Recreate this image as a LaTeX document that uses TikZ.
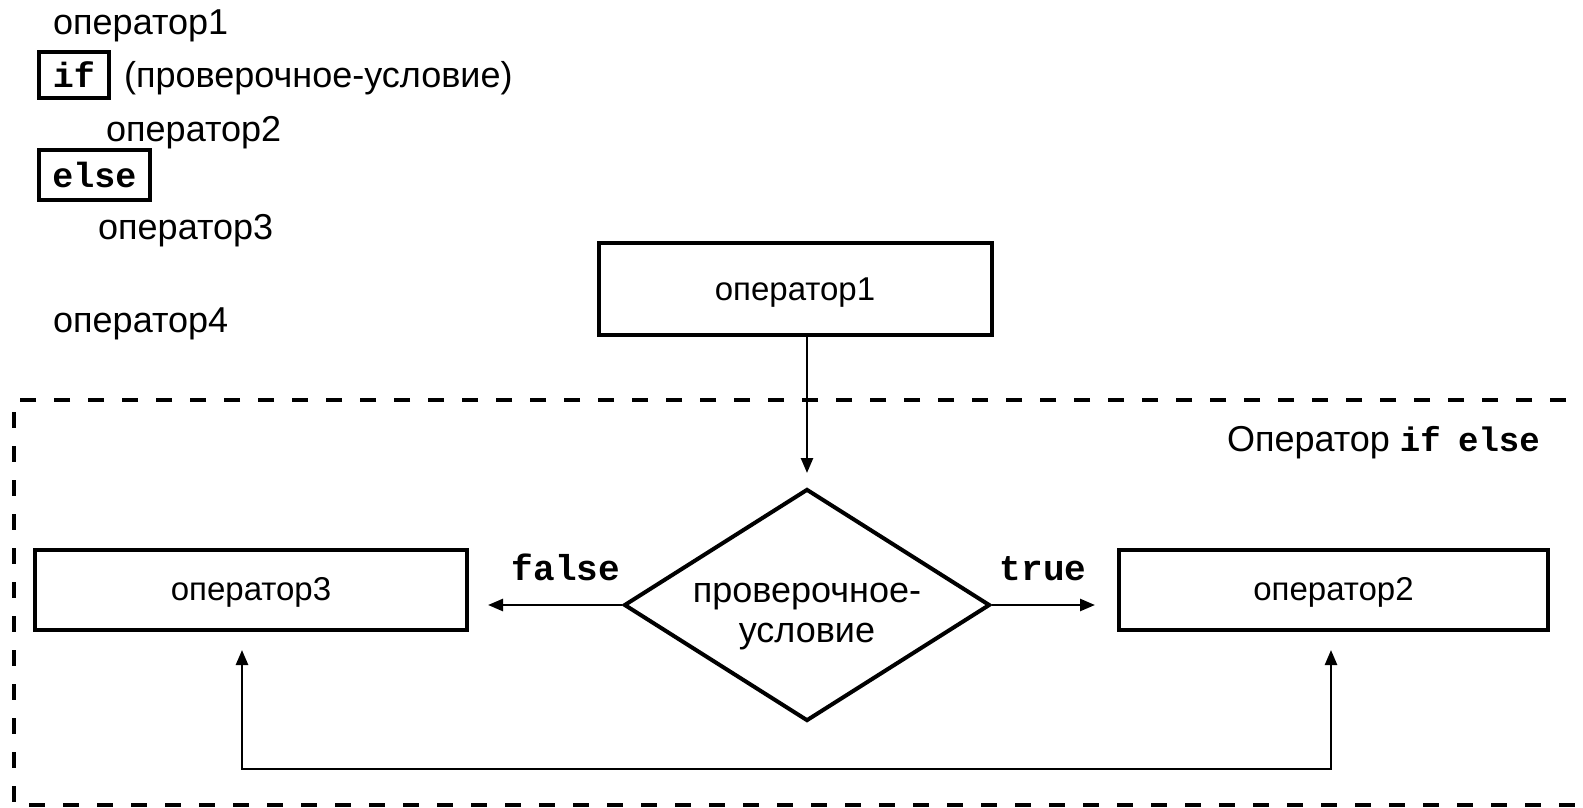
\documentclass[tikz,border=0pt]{standalone}
\usepackage{fontspec}
\setmainfont{Liberation Sans}
\newfontfamily\codefont{Liberation Mono}
\usetikzlibrary{arrows.meta,shapes.geometric}

\tikzset{
  txt/.style={font=\fontsize{36}{40}\selectfont, inner sep=0pt},
  code/.style={font=\codefont\bfseries\fontsize{36}{40}\selectfont, inner sep=0pt},
  kwbox/.style={draw, line width=3.5pt, font=\codefont\bfseries\fontsize{35}{40}\selectfont,
                inner sep=0pt},
  opbox/.style={draw, line width=4pt, font=\fontsize{33}{40}\selectfont, inner sep=0pt,
                text height=21pt, text depth=0pt},
  cond/.style={draw, diamond, line width=4pt, inner sep=0pt,
               minimum width=366pt, minimum height=232pt},
  flow/.style={line width=2.5pt, ->},
  frame/.style={line width=4pt, dash pattern=on 16pt off 18pt}
}

\begin{document}
\begin{tikzpicture}[x=1pt, y=-1pt, >={Triangle[length=15pt,width=12pt]}]
  \useasboundingbox (0,0) rectangle (1583,808);

  % source listing
  \node[txt, anchor=base west] (s1) at (53,35) {оператор1};
  \node[kwbox, minimum width=70pt, minimum height=46pt] (kif) at (74,75) {if};
  \node[txt, anchor=base west] (scond) at (124,88) {(проверочное-условие)};
  \node[txt, anchor=base west] (s2) at (106,141) {оператор2};
  \node[kwbox, minimum width=111pt, minimum height=50pt] (kelse) at (94.5,175) {else};
  \node[txt, anchor=base west] (s3) at (98,239) {оператор3};
  \node[txt, anchor=base west] (s4) at (53,332) {оператор4};

  % dashed frame of the if-else statement (open on the right)
  \draw[frame] (1600,400) -- (14,400) -- (14,805) -- (1600,805);
  \node[txt, anchor=base east] (title) at (1540,451)
    {Оператор {\codefont\bfseries\fontsize{34}{40}\selectfont if\kern-3pt\ else}};

  % flowchart
  \node[opbox, minimum width=393pt, minimum height=92pt, text height=23pt] (op1) at (795,289) {оператор1};
  \node[cond] (dia) at (807,605) {};
  \node[txt, align=center] (dtext) at (807,617)
    {проверочное-\\условие};
  \node[opbox, minimum width=432pt, minimum height=80pt] (op3) at (251,590) {оператор3};
  \node[opbox, minimum width=429pt, minimum height=80pt] (op2) at (1333.5,590) {оператор2};

  \draw[flow, shorten >=14pt] (op1.south -| dia.north) -- (dia.north);
  \draw[flow, shorten >=19pt] (dia.west) -- (dia.west -| op3.east);
  \draw[flow, shorten >=22pt] (dia.east) -- (dia.east -| op2.west);

  \node[code, anchor=base] (lfalse) at (566,580) {false};
  \node[code, anchor=base] (ltrue) at (1043,580) {true};

  % return path below the branches
  \coordinate (loopL) at (242,769);
  \coordinate (loopR) at (1331,769);
  \draw[line width=2.5pt, <->, shorten <=18pt, shorten >=18pt]
    (op3.south -| loopL) -- (loopL) -- (loopR) -- (op2.south -| loopR);
\end{tikzpicture}
\end{document}
